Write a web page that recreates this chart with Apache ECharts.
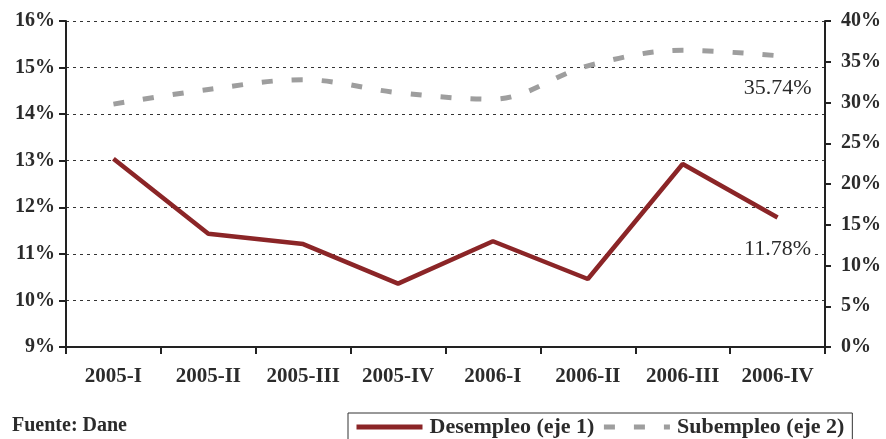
<!DOCTYPE html>
<html>
<head>
<meta charset="utf-8">
<script src="https://cdn.jsdelivr.net/npm/echarts@6/dist/echarts.min.js"></script>
<style>
html,body{margin:0;padding:0;background:#fff;}
#chart{width:886px;height:439px;}
</style>
</head>
<body>
<div id="chart"></div>
<script>
const categories = ['2005-I','2005-II','2005-III','2005-IV','2006-I','2006-II','2006-III','2006-IV'];
const desempleo = [13.04, 11.43, 11.21, 10.36, 11.27, 10.46, 12.93, 11.78];
const subempleo = [29.8, 31.6, 32.8, 31.2, 30.4, 34.5, 36.4, 35.74];
const leftTicks = {min: 9, max: 16, interval: 1};
const rightTicks = {min: 0, max: 40, interval: 5};

const FONT = '"Liberation Serif", "Times New Roman", serif';
const TXT = '#2b2b2b';

const chart = echarts.init(document.getElementById('chart'), null, {renderer: 'canvas'});

function lastLabel(arr, fmt) {
  return arr.map((v, i) => i === arr.length - 1 ? {
    value: v,
    label: {
      show: true, position: 'bottom', distance: 20,
      formatter: fmt,
      fontFamily: FONT, fontSize: 22, fontWeight: 'normal', color: TXT,
      backgroundColor: '#fff', padding: [1, 2]
    }
  } : v);
}

chart.setOption({
  animation: false,
  backgroundColor: '#fff',
  grid: {left: 66, right: 61, top: 21, bottom: 92, containLabel: false},
  legend: {
    left: 348, top: 413,
    orient: 'horizontal',
    borderColor: '#333', borderWidth: 1, borderRadius: 0,
    padding: [3, 8, 12, 6],
    itemWidth: 66, itemHeight: 14, itemGap: 7,
    itemStyle: {color: 'rgba(0,0,0,0)', borderWidth: 0, opacity: 0},
    lineStyle: {width: 5},
    textStyle: {fontFamily: FONT, fontSize: 22, fontWeight: 'bold', color: TXT, padding: [0, 12, 0, 2]},
    data: ['Desempleo (eje 1)', 'Subempleo (eje 2)']
  },
  graphic: [{
    type: 'text', left: 12, top: 416,
    style: {text: 'Fuente: Dane', fontFamily: FONT, fontSize: 20, fontWeight: 'bold', fill: TXT}
  }],
  xAxis: {
    type: 'category', data: categories, boundaryGap: true,
    axisLine: {lineStyle: {color: '#222', width: 2}},
    axisTick: {show: true, interval: 0, length: 7, lineStyle: {color: '#222', width: 2}},
    axisLabel: {interval: 0, margin: 19, fontFamily: FONT, fontSize: 21, fontWeight: 'bold', color: TXT},
    splitLine: {show: false}
  },
  yAxis: [{
    type: 'value', position: 'left',
    min: leftTicks.min, max: leftTicks.max, interval: leftTicks.interval,
    axisLine: {show: true, lineStyle: {color: '#222', width: 2}},
    axisTick: {show: true, length: 7, lineStyle: {color: '#222', width: 2}},
    axisLabel: {margin: 11, formatter: v => v + '%', fontFamily: FONT, fontSize: 20, fontWeight: 'bold', color: TXT},
    splitLine: {show: true, lineStyle: {color: '#333', width: 1, type: [3, 4]}}
  }, {
    type: 'value', position: 'right',
    min: rightTicks.min, max: rightTicks.max, interval: rightTicks.interval,
    axisLine: {show: true, lineStyle: {color: '#222', width: 2}},
    axisTick: {show: true, length: 6, lineStyle: {color: '#222', width: 2}},
    axisLabel: {margin: 16, formatter: v => v + '%', fontFamily: FONT, fontSize: 20, fontWeight: 'bold', color: TXT},
    splitLine: {show: false}
  }],
  series: [{
    name: 'Desempleo (eje 1)', type: 'line', yAxisIndex: 0,
    data: lastLabel(desempleo, '11.78%'),
    symbol: 'circle', symbolSize: 0, showSymbol: true,
    smooth: false,
    lineStyle: {color: '#8b2527', width: 4.5},
    itemStyle: {color: '#8b2527'},
    z: 3
  }, {
    name: 'Subempleo (eje 2)', type: 'line', yAxisIndex: 1,
    data: lastLabel(subempleo, '35.74%'),
    symbol: 'circle', symbolSize: 0, showSymbol: true,
    smooth: 0.35,
    lineStyle: {color: '#9e9e9e', width: 5, type: [11, 19], cap: 'butt'},
    itemStyle: {color: '#9e9e9e'},
    z: 2
  }]
});
</script>
</body>
</html>
